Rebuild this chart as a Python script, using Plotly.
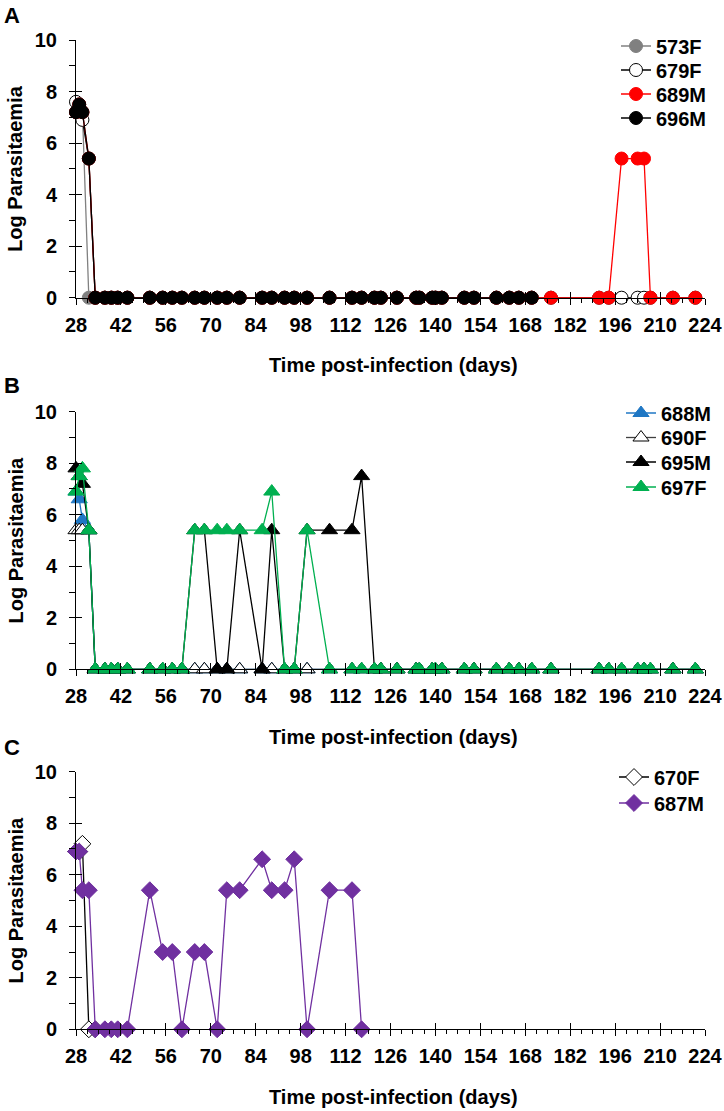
import plotly.graph_objects as go

# ---------------- data ----------------
days = [28, 29, 30, 32, 34, 37, 39, 41, 44, 51, 55, 58, 61, 65, 68, 72, 75, 79, 86, 89,
        93, 96, 100, 107, 114, 117, 121, 123, 128, 134, 135, 139, 140, 142, 149, 152,
        159, 163, 166, 170, 176, 191, 194, 198, 203, 205, 207, 214, 221]

# Panel A (circles)
a_573F_days = days[:40]
a_573F = [7.2, 7.5, 7.2, 0] + [0] * 36
a_679F_days = days
a_679F = [7.6, 7.4, 6.9, 5.4] + [0] * 45
a_689M_days = days
a_689M = [7.2, 7.5, 7.2, 5.4] + [0] * 39 + [5.4, 5.4, 5.4, 0, 0, 0]
a_696M_days = days[:40]
a_696M = [7.2, 7.5, 7.2, 5.4] + [0] * 36

# Panel B (triangles)
b_688M_days = days
b_688M = [6.9, 6.6, 5.8, 5.4] + [0] * 45
b_690F_days = days
b_690F = [5.4, 5.4, 5.4, 5.4] + [0] * 45
b_695M_days = days
b_695M = ([7.8, 7.5, 7.2, 5.4, 0, 0, 0, 0, 0, 0, 0, 0, 0, 5.4, 5.4, 0, 0, 5.4, 0, 5.4,
           0, 0, 5.4, 5.4, 5.4, 7.5, 0] + [0] * 22)
b_697F_days = days
b_697F = ([6.9, 7.5, 7.8, 5.4, 0, 0, 0, 0, 0, 0, 0, 0, 0, 5.4, 5.4, 5.4, 5.4, 5.4, 5.4, 6.9,
           0, 0, 5.4] + [0] * 26)

# Panel C (diamonds)
c_670F_days = [28, 29, 30, 32, 34]
c_670F = [6.9, 6.9, 7.2, 0, 0]
c_687M_days = [28, 29, 30, 32, 34, 37, 39, 41, 44, 51, 55, 58, 61, 65, 68, 72, 75, 79, 86,
               89, 93, 96, 100, 107, 114, 117]
c_687M = [6.9, 6.9, 5.4, 5.4, 0, 0, 0, 0, 0, 5.4, 3.0, 3.0, 0, 3.0, 3.0, 0, 5.4, 5.4, 6.6,
          5.4, 5.4, 6.6, 0, 5.4, 5.4, 0]

x_ticks_start, x_ticks_step, x_min, x_max = 28, 14, 28, 224
y_min, y_max = 0, 10

# ---------------- layout geometry ----------------
W, H = 724, 1111
PX0, PX1 = 76, 705
panels = [  # (zero_y_px, top_y_px)
    (297.7, 40.0),
    (669.3, 411.7),
    (1029.3, 771.7),
]
FONT = "Liberation Sans, Arial, sans-serif"
FS = 20

def fx(p):
    return p / W

def fy(p):
    return 1 - p / H

series = [
    # panel, name, xs, ys, symbol, fill, marker line, line color, size, legend text x, legend y
    (1, "573F", a_573F_days, a_573F, "circle", "#808080", "#808080", "#808080", 13, 656, 46),
    (1, "679F", a_679F_days, a_679F, "circle", "white", "black", "black", 13, 656, 70),
    (1, "689M", a_689M_days, a_689M, "circle", "#FF0000", "#FF0000", "#FF0000", 13, 656, 94),
    (1, "696M", a_696M_days, a_696M, "circle", "black", "black", "black", 13, 656, 118),
    (2, "688M", b_688M_days, b_688M, "triangle-up", "#1F77C4", "#1F77C4", "#1F77C4", 14, 661, 413),
    (2, "690F", b_690F_days, b_690F, "triangle-up", "white", "black", "#404040", 14, 661, 437.5),
    (2, "695M", b_695M_days, b_695M, "triangle-up", "black", "black", "black", 14, 661, 462),
    (2, "697F", b_697F_days, b_697F, "triangle-up", "#00B050", "#00B050", "#00B050", 14, 661, 487),
    (3, "670F", c_670F_days, c_670F, "diamond", "white", "black", "black", 13, 654, 777),
    (3, "687M", c_687M_days, c_687M, "diamond", "#7030A0", "#7030A0", "#7030A0", 13, 654, 803),
]

fig = go.Figure()
layout = dict(
    template="none",
    width=W, height=H, margin=dict(l=0, r=0, t=0, b=0, autoexpand=False),
    paper_bgcolor="white", plot_bgcolor="rgba(0,0,0,0)",
    font=dict(family=FONT, size=FS, color="black"),
    showlegend=True,
)

for k, (p, name, xs, ys, sym, fill, mline, lcol, size, lx, ly) in enumerate(series, start=1):
    leg = "legend" if k == 1 else f"legend{k}"
    fig.add_trace(go.Scatter(
        x=xs, y=ys, mode="lines+markers", name=name,
        xaxis="x" if p == 1 else f"x{p}", yaxis="y" if p == 1 else f"y{p}",
        legend=leg,
        line=dict(color=lcol, width=1.3),
        marker=dict(symbol=sym, size=size, color=fill, line=dict(color=mline, width=1)),
        cliponaxis=False,
    ))
    layout[leg] = dict(
        x=fx(lx - 40), y=fy(ly), xanchor="left", yanchor="middle",
        bgcolor="rgba(0,0,0,0)", borderwidth=0,
        font=dict(family=FONT, size=FS, weight="bold"), itemwidth=30,
    )

# dummy traces for overlay axes (crossing major ticks)
for p in range(1, 4):
    xa = "x" if p == 1 else f"x{p}"
    ya = "y" if p == 1 else f"y{p}"
    fig.add_trace(go.Scatter(x=[], y=[], xaxis=f"x{p+3}", yaxis=ya, showlegend=False))
    fig.add_trace(go.Scatter(x=[], y=[], xaxis=xa, yaxis=f"y{p+3}", showlegend=False))

annotations = []
for i, (zy, ty) in enumerate(panels, start=1):
    sx = "" if i == 1 else str(i)
    dom_y = [fy(zy), fy(ty)]
    layout[f"xaxis{sx}"] = dict(
        domain=[fx(PX0), fx(PX1)], range=[x_min, x_max], anchor=f"y{sx}", automargin=False,
        tickmode="linear", tick0=x_ticks_start, dtick=x_ticks_step,
        ticks="outside", ticklen=6, tickwidth=1, tickcolor="black",
        showline=True, linecolor="black", linewidth=1, showgrid=False, zeroline=False,
        tickfont=dict(family=FONT, size=FS, weight="bold"), ticklabelstandoff=3,
        minor=dict(tick0=x_ticks_start, dtick=3.5, ticks="outside", ticklen=4,
                   tickcolor="black", tickwidth=1, showgrid=False),
    )
    layout[f"xaxis{i+3}"] = dict(
        domain=[fx(PX0), fx(PX1)], range=[x_min, x_max], anchor=f"y{sx}", automargin=False,
        overlaying=f"x{sx}", tickmode="linear", tick0=x_ticks_start, dtick=x_ticks_step,
        ticks="inside", ticklen=6, tickwidth=1, tickcolor="black",
        showline=False, showgrid=False, zeroline=False, showticklabels=False,
    )
    layout[f"yaxis{sx}"] = dict(
        domain=dom_y, range=[y_min, y_max], anchor=f"x{sx}", automargin=False,
        tickmode="linear", tick0=0, dtick=2,
        ticks="outside", ticklen=6, tickwidth=1, tickcolor="black",
        showline=True, linecolor="black", linewidth=1, showgrid=False, zeroline=False,
        tickfont=dict(family=FONT, size=FS, weight="bold"), ticklabelstandoff=8,
        minor=dict(tick0=0, dtick=1, ticks="outside", ticklen=6,
                   tickcolor="black", tickwidth=1, showgrid=False),
    )
    layout[f"yaxis{i+3}"] = dict(
        domain=dom_y, range=[y_min, y_max], anchor=f"x{sx}", automargin=False,
        overlaying=f"y{sx}", tickmode="linear", tick0=0, dtick=2,
        ticks="inside", ticklen=6, tickwidth=1, tickcolor="black",
        showline=False, showgrid=False, zeroline=False, showticklabels=False,
    )
    annotations.append(dict(
        text="Time post-infection (days)", xref="paper", yref="paper",
        x=fx(393), y=fy(zy + 67.4), xanchor="center", yanchor="middle", showarrow=False,
        font=dict(family=FONT, size=FS, weight="bold"),
    ))
    annotations.append(dict(
        text="Log Parasitaemia", xref="paper", yref="paper",
        x=fx(15), y=fy((zy + ty) / 2), xanchor="center", yanchor="middle", showarrow=False,
        textangle=-90, font=dict(family=FONT, size=FS, weight="bold"),
    ))

for letter, ly in (("A", 15), ("B", 385), ("C", 747)):
    annotations.append(dict(
        text=letter, xref="paper", yref="paper", x=fx(11.5), y=fy(ly),
        xanchor="center", yanchor="middle", showarrow=False,
        font=dict(family=FONT, size=22, weight="bold"),
    ))

layout["annotations"] = annotations
fig.update_layout(**layout)
fig.write_html(
    "out.html",
    config={"displayModeBar": False, "staticPlot": True},
    post_script="document.body.style.margin='0px';document.body.style.padding='0px';"
                "document.documentElement.style.overflow='hidden';",
)
